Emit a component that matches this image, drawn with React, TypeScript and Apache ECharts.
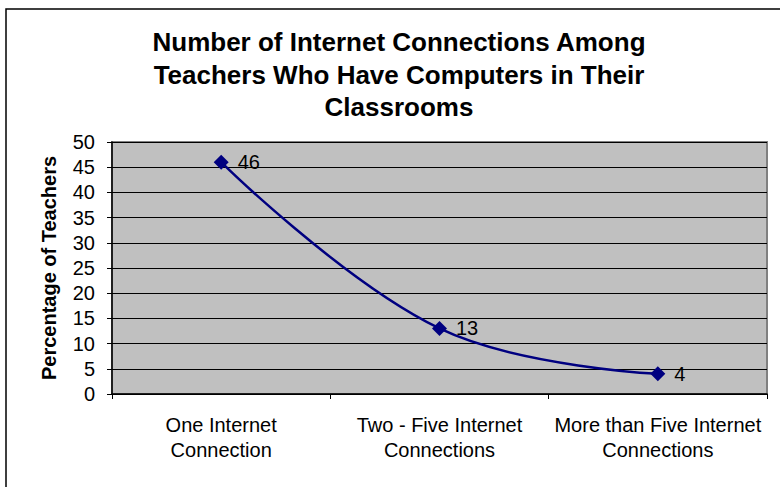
import React, { useEffect, useRef } from "react";
import * as echarts from "echarts";

const categories = ["One Internet\nConnection", "Two - Five Internet\nConnections", "More than Five Internet\nConnections"];
const percentages = [46, 13, 4];
const titleLines = ["Number of Internet Connections Among", "Teachers Who Have Computers in Their", "Classrooms"];
const yAxisName = "Percentage of Teachers";

const FONT = "'Liberation Sans', Arial, sans-serif";

export default function App() {
  const ref = useRef<HTMLDivElement>(null);
  useEffect(() => {
    if (!ref.current) return;
    const chart = echarts.init(ref.current, null, { renderer: "svg" });
    chart.setOption({
      animation: false,
      backgroundColor: "#ffffff",
      graphic: [
        {
          type: "rect",
          shape: { x: 6, y: 9, width: 820, height: 520 },
          style: { fill: "none", stroke: "#000000", lineWidth: 1.5 },
          z: 0,
        },
        {
          type: "text",
          x: 399,
          y: 26,
          style: {
            text: titleLines.join("\n"),
            fontFamily: FONT,
            fontSize: 26,
            fontWeight: "bold",
            lineHeight: 32.5,
            textAlign: "center",
            textVerticalAlign: "top",
            fill: "#000000",
          },
        },
      ],
      grid: {
        left: 112,
        top: 142,
        right: 13,
        bottom: 93,
        show: true,
        backgroundColor: "#c0c0c0",
        borderColor: "#808080",
        borderWidth: 2,
      },
      xAxis: {
        type: "category",
        data: categories,
        boundaryGap: true,
        axisLine: { lineStyle: { color: "#000000", width: 1.5 } },
        axisTick: { show: true, length: 5, lineStyle: { color: "#000000" } },
        axisLabel: {
          color: "#000000",
          fontSize: 20,
          fontFamily: FONT,
          lineHeight: 25,
          margin: 18,
          interval: 0,
        },
        splitLine: { show: false },
      },
      yAxis: {
        type: "value",
        min: 0,
        max: 50,
        interval: 5,
        name: yAxisName,
        nameLocation: "middle",
        nameGap: 53,
        nameTextStyle: {
          fontSize: 20,
          fontWeight: "bold",
          fontFamily: FONT,
          color: "#000000",
        },
        axisLine: { show: true, lineStyle: { color: "#000000", width: 1.5 } },
        axisTick: { show: true, length: 5, lineStyle: { color: "#000000" } },
        axisLabel: {
          color: "#000000",
          fontSize: 20,
          fontFamily: FONT,
          margin: 17,
        },
        splitLine: { show: true, lineStyle: { color: "#000000", width: 1 } },
      },
      series: [
        {
          type: "line",
          data: percentages,
          smooth: 0.4,
          symbol: "diamond",
          symbolSize: [15, 15],
          itemStyle: { color: "#000080" },
          lineStyle: { color: "#000080", width: 2.5 },
          label: {
            show: true,
            position: "right",
            distance: 9,
            color: "#000000",
            fontSize: 20,
            fontFamily: FONT,
          },
          z: 5,
        },
      ],
    });
    return () => chart.dispose();
  }, []);
  return (
    <div
      ref={ref}
      style={{ position: "fixed", left: 0, top: 0, width: 780, height: 487 }}
    />
  );
}
